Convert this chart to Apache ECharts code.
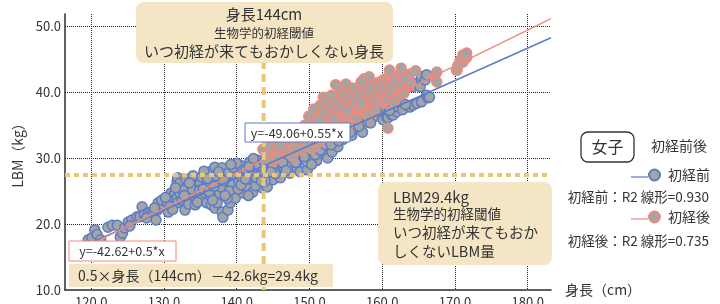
<!DOCTYPE html>
<html>
<head>
<meta charset="utf-8">
<script src="https://cdn.jsdelivr.net/npm/echarts@6/dist/echarts.min.js"></script>
<style>
  html, body { margin: 0; padding: 0; background: #fff; }
  #chart { width: 720px; height: 304px; }
</style>
</head>
<body>
<div id="chart"></div>
<script>
// axis extents
const xMin = 116.4
const xMax = 183.2
const yMin = 10
const yMax = 51.8

// 初経前 (height cm, LBM kg)
const prePoints = [
  [119.6, 17.6], [120.1, 17.9], [120.5, 19.1], [120.8, 18.4], [121.3, 17.6], [122.3, 19.5], [122.9, 19.8],
  [123.6, 19.8], [124.0, 18.0], [124.3, 18.6], [124.6, 19.4], [125.1, 20.3], [125.6, 20.6], [125.3, 19.7],
  [126.3, 21.1], [126.7, 21.1], [127.0, 22.6], [127.3, 21.4], [127.8, 21.7], [128.1, 21.7], [128.5, 21.7],
  [128.9, 20.6], [129.1, 22.1], [129.2, 23.2], [129.5, 22.6], [129.9, 22.9], [129.7, 23.6], [128.7, 22.4],
  [127.6, 20.9], [130.4, 23.3], [130.8, 22.6], [131.0, 24.7], [131.3, 24.1], [131.5, 24.7], [131.8, 23.9],
  [131.9, 23.2], [131.8, 26.4], [131.9, 27.0], [132.2, 26.2], [132.2, 24.7], [132.5, 23.6], [132.9, 22.1],
  [133.2, 25.6], [133.6, 24.1], [133.4, 23.0], [134.0, 24.8], [134.3, 22.9], [134.3, 25.9], [134.6, 25.9],
  [134.8, 24.2], [135.0, 23.6], [135.0, 26.2], [130.6, 21.8], [133.0, 26.8], [134.0, 27.3], [134.6, 23.3],
  [133.8, 25.3], [132.6, 25.1], [131.2, 22.2], [135.2, 27.1], [135.7, 24.7], [135.9, 25.9], [135.9, 23.2],
  [136.1, 25.6], [136.3, 27.9], [136.5, 22.9], [137.0, 28.6], [137.0, 22.4], [137.3, 23.2], [137.4, 26.4],
  [137.6, 24.6], [138.0, 21.8], [138.1, 21.0], [138.3, 25.3], [138.5, 27.2], [138.8, 22.1], [139.1, 28.2],
  [139.1, 23.2], [139.4, 26.0], [139.6, 24.9], [139.8, 23.9], [139.9, 27.4], [136.8, 26.5], [138.0, 28.5],
  [136.4, 24.3], [137.8, 25.6], [139.0, 25.0], [135.5, 28.0], [137.1, 27.3], [138.7, 23.9], [136.0, 26.9],
  [140.5, 28.9], [140.3, 26.5], [140.9, 24.7], [141.0, 27.6], [141.4, 25.7], [141.8, 29.4], [141.9, 26.8],
  [142.2, 24.8], [142.4, 28.0], [142.8, 29.7], [142.9, 26.3], [143.2, 27.4], [143.5, 25.5], [143.7, 28.5],
  [144.0, 30.0], [144.2, 25.6], [144.3, 27.2], [144.6, 30.5], [144.8, 28.6], [145.0, 26.7], [140.2, 25.3],
  [141.3, 28.3], [142.6, 25.8], [143.9, 26.5], [140.7, 27.0], [142.0, 27.3], [143.0, 28.9], [144.5, 29.3],
  [141.6, 24.3], [145.5, 30.9], [145.6, 28.2], [145.9, 29.6], [146.0, 27.0], [146.4, 28.7], [146.9, 31.5],
  [147.0, 29.8], [147.3, 27.7], [147.6, 28.9], [148.0, 30.6], [148.3, 28.4], [148.7, 27.9], [148.9, 29.8],
  [149.2, 31.0], [149.7, 28.2], [149.7, 29.4], [150.1, 30.0], [146.6, 30.2], [147.8, 31.8], [148.5, 32.2],
  [149.4, 32.5], [145.3, 27.6], [150.5, 31.3], [150.9, 32.7], [151.3, 30.6], [151.8, 31.8], [152.4, 30.8],
  [152.5, 30.0], [152.8, 31.7], [153.1, 30.9], [153.2, 33.2], [153.6, 32.3], [154.2, 33.8], [154.6, 32.8],
  [155.0, 34.2], [155.3, 34.5], [151.0, 29.6], [153.9, 31.7], [152.0, 33.4], [155.8, 33.4], [156.2, 35.3],
  [156.5, 34.7], [157.0, 35.8], [157.6, 36.5], [158.0, 35.4], [158.7, 36.1], [158.7, 39.1], [159.0, 38.5],
  [159.3, 39.2], [159.7, 36.8], [160.1, 35.8], [157.3, 33.9], [159.2, 37.4], [160.4, 37.6], [160.6, 36.2],
  [160.8, 36.1], [160.8, 37.7], [161.3, 36.5], [161.5, 36.5], [162.0, 37.0], [162.2, 37.7], [162.8, 37.3],
  [163.8, 37.7], [164.1, 41.4], [164.2, 40.8], [164.2, 38.0], [164.8, 38.3], [165.2, 40.8], [165.4, 38.5],
  [165.4, 42.3], [165.9, 41.8], [166.1, 42.6], [166.1, 39.5], [166.3, 39.1], [166.5, 39.2],
  [130.2, 24.0], [131.6, 25.5], [132.8, 24.3], [133.5, 26.2], [134.9, 25.1], [135.4, 25.3], [136.2, 24.9],
  [136.9, 25.7], [137.5, 27.9], [138.2, 26.6], [138.9, 27.8], [139.5, 28.6], [140.0, 29.2], [140.6, 25.9],
  [141.2, 26.8], [141.7, 28.7], [142.3, 29.9], [142.7, 27.0], [143.4, 26.5], [143.8, 29.4], [144.7, 27.9],
  [145.2, 29.2], [145.8, 30.4], [146.3, 29.3], [146.8, 28.1], [147.5, 30.5], [148.1, 29.3], [148.8, 30.8],
  [149.3, 30.2], [150.3, 29.0], [150.8, 30.5], [151.5, 31.2], [152.2, 32.0], [153.0, 32.0], [154.0, 32.6],
  [154.5, 34.5], [155.6, 33.9], [156.8, 34.8], [157.9, 37.4], [158.4, 35.3], [159.9, 38.3], [161.0, 37.2],
  [163.2, 38.1], [139.2, 29.0], [138.4, 24.3], [136.7, 23.6]
]

// 初経後
const postPoints = [
  [143.6, 31.3], [144.3, 30.6], [144.6, 31.8], [145.2, 30.2], [145.5, 31.5], [145.9, 32.6], [146.4, 32.0],
  [146.9, 32.0], [147.0, 30.8], [147.3, 32.4], [147.7, 30.2], [147.8, 33.4], [148.3, 31.7], [148.3, 32.7],
  [148.3, 31.2], [144.9, 29.5], [146.2, 30.9], [145.0, 32.9], [148.7, 33.9], [149.1, 32.3], [149.1, 32.7],
  [149.7, 33.8], [149.7, 34.5], [150.1, 32.0], [150.1, 32.7], [150.5, 34.7], [150.5, 33.4], [151.0, 33.2],
  [151.0, 36.2], [151.4, 34.7], [151.4, 36.2], [151.7, 35.3], [151.9, 36.5], [151.9, 37.0], [151.9, 39.2],
  [150.8, 35.5], [149.4, 35.0], [148.9, 31.2], [150.3, 31.4], [151.2, 32.4], [149.9, 36.3], [151.5, 38.0],
  [150.6, 37.4], [152.1, 35.8], [152.4, 33.8], [152.5, 36.1], [152.8, 34.7], [153.1, 37.3], [153.2, 34.7],
  [153.2, 37.7], [153.8, 37.3], [153.8, 38.8], [153.9, 36.8], [154.2, 36.2], [154.2, 39.2], [154.2, 40.3],
  [154.6, 35.8], [154.9, 35.8], [154.9, 38.3], [155.1, 38.8], [155.1, 39.8], [155.1, 40.0], [155.6, 36.5],
  [155.6, 37.7], [155.8, 38.0], [156.0, 39.8], [152.3, 38.6], [153.0, 39.5], [153.5, 35.4], [152.7, 33.0],
  [154.0, 34.4], [155.3, 34.9], [153.6, 41.1], [152.9, 36.3], [156.2, 39.8], [156.5, 40.3], [156.5, 39.2],
  [156.7, 37.3], [156.9, 37.6], [156.9, 38.3], [156.9, 40.8], [157.6, 37.7], [157.9, 40.8], [158.0, 41.1],
  [158.3, 38.8], [158.6, 37.3], [158.7, 39.2], [159.3, 41.1], [159.3, 41.4], [159.0, 37.0], [159.7, 41.4],
  [159.5, 39.6], [157.3, 39.5], [158.0, 36.3], [156.4, 36.0], [157.5, 42.0], [159.0, 40.2], [158.2, 42.3],
  [160.1, 41.8], [160.1, 39.8], [160.1, 38.3], [160.6, 38.8], [160.6, 40.3], [160.6, 42.1], [160.8, 41.8],
  [160.8, 34.5], [161.1, 39.8], [161.3, 42.1], [161.5, 42.1], [162.0, 40.3], [162.0, 39.1], [162.0, 40.6],
  [162.2, 42.3], [162.4, 39.5], [162.4, 42.7], [162.8, 41.1], [162.8, 42.1], [163.4, 42.6], [163.4, 40.8],
  [163.5, 42.3], [163.8, 42.7], [161.6, 38.4], [163.0, 39.8], [161.0, 43.3], [162.6, 43.6], [163.9, 41.3],
  [164.6, 43.2], [167.2, 42.3], [167.5, 43.0], [167.5, 41.5], [170.2, 43.3], [170.3, 43.3], [170.4, 44.0],
  [170.7, 44.8], [171.1, 44.5], [171.1, 45.6], [171.6, 45.2], [171.6, 45.9],
  [145.6, 30.0], [146.7, 31.2], [147.4, 33.0], [148.0, 31.6], [148.6, 32.6], [149.4, 33.5], [149.8, 31.8],
  [150.3, 33.9], [150.9, 34.2], [151.3, 35.7], [151.6, 33.6], [152.2, 34.6], [152.6, 37.4], [153.4, 36.0],
  [153.7, 38.2], [154.4, 37.6], [154.7, 39.6], [155.3, 37.1], [155.5, 39.2], [155.9, 40.6], [156.3, 38.6],
  [156.8, 39.6], [157.2, 38.2], [157.7, 40.3], [158.2, 39.9], [158.6, 40.6], [159.1, 38.4], [159.6, 40.8],
  [160.3, 40.9], [160.9, 40.9], [161.4, 40.7], [161.8, 41.6], [162.5, 41.2], [163.1, 41.9], [157.1, 41.5],
  [155.0, 41.2], [154.6, 33.3], [152.0, 36.9], [149.3, 34.1], [146.0, 31.6]
]

// fitted lines, end points as drawn
const fitPre = [[120.3, 17.3], [183.2, 48.2]]
const fitPost = [[121.2, 17.6], [183.2, 51.1]]

// threshold guides
const heightLine = [[143.7, yMin], [143.7, yMax]]
const lbmLine = [[xMin, 27.4], [xMax, 27.4]]

const FONT = '"Noto Sans CJK JP", "Noto Sans", sans-serif'
const TXT = '#333333'
const CREAM = '#f4e5c5'
const GOLD = '#ebc677'
const BLUE = '#5a7cc8'
const RED = '#f2897a'
const GRAY = '#a4a4a4'

const chart = echarts.init(document.getElementById('chart'))

const legendBase = {
  orient: 'horizontal',
  icon: 'circle',
  itemWidth: 11,
  itemHeight: 11,
  padding: 0,
  selectedMode: false,
  textStyle: { fontFamily: FONT, fontSize: 14, color: TXT, padding: [0, 0, 0, 3] },
}

chart.setOption({
  animation: false,
  backgroundColor: '#fff',
  grid: { left: 65, right: 169, top: 14, bottom: 14, outerBoundsMode: 'none' },
  legend: [
    { ...legendBase, data: ['初経前'], left: 648, top: 168 },
    { ...legendBase, data: ['初経後'], left: 648, top: 210 },
  ],
  xAxis: {
    type: 'value',
    min: xMin,
    max: xMax,
    name: '身長（cm）',
    nameLocation: 'end',
    nameGap: 14,
    nameTextStyle: { fontFamily: FONT, fontSize: 14, color: TXT, verticalAlign: 'middle' },
    axisLine: { show: true, lineStyle: { color: '#2b2b2b', width: 1.5 } },
    axisTick: { show: false },
    axisLabel: {
      margin: 6, fontFamily: FONT, fontSize: 13, color: TXT,
      showMinLabel: false, showMaxLabel: false,
      formatter: v => v.toFixed(1),
    },
    splitLine: { show: true, showMinLine: false, showMaxLine: false, lineStyle: { color: '#222', type: 'dotted', width: 1 } },
  },
  yAxis: {
    type: 'value',
    min: yMin,
    max: yMax,
    name: 'LBM（kg）',
    nameLocation: 'middle',
    nameRotate: 90,
    nameGap: 40,
    nameTextStyle: { fontFamily: FONT, fontSize: 14, color: TXT },
    axisLine: { show: true, lineStyle: { color: '#2b2b2b', width: 1.5 } },
    axisTick: { show: false },
    axisLabel: {
      margin: 4, fontFamily: FONT, fontSize: 13, color: TXT,
      showMaxLabel: false,
      formatter: v => v.toFixed(1),
    },
    splitLine: { show: true, showMinLine: false, showMaxLine: false, lineStyle: { color: '#222', type: 'dotted', width: 1 } },
  },
  series: [
    {
      name: '初経前', type: 'scatter', data: prePoints, symbolSize: 10, z: 2,
      itemStyle: { color: GRAY, borderColor: BLUE, borderWidth: 1.5, opacity: 1 },
    },
    {
      name: '初経後', type: 'scatter', data: postPoints, symbolSize: 10, z: 2,
      itemStyle: { color: GRAY, borderColor: RED, borderWidth: 1.5, opacity: 1 },
    },
    {
      name: 'fitPre', type: 'line', data: fitPre, symbol: 'none', z: 3, silent: true,
      lineStyle: { color: BLUE, width: 1.5 },
    },
    {
      name: 'fitPost', type: 'line', data: fitPost, symbol: 'none', z: 3, silent: true,
      lineStyle: { color: RED, width: 1.5 },
    },
    {
      name: 'heightLine', type: 'line', data: heightLine, symbol: 'none', z: 4, silent: true,
      lineStyle: { color: GOLD, width: 4, type: [8, 5] },
    },
    {
      name: 'lbmLine', type: 'line', data: lbmLine, symbol: 'none', z: 4, silent: true,
      lineStyle: { color: GOLD, width: 4, type: [5, 4] },
    },
  ],
  graphic: [
    // top note
    { type: 'rect', z: 20, shape: { x: 136, y: 2, width: 257, height: 61, r: 8 }, style: { fill: CREAM } },
    { type: 'text', z: 21, x: 264, y: 14, style: { text: '身長144cm', font: '15px ' + FONT, fill: TXT, align: 'center', verticalAlign: 'middle' } },
    { type: 'text', z: 21, x: 264, y: 33, style: { text: '生物学的初経閾値', font: '12.5px ' + FONT, fill: TXT, align: 'center', verticalAlign: 'middle' } },
    { type: 'text', z: 21, x: 264, y: 51, style: { text: 'いつ初経が来てもおかしくない身長', font: '15px ' + FONT, fill: TXT, align: 'center', verticalAlign: 'middle' } },
    // fit equations
    { type: 'rect', z: 20, shape: { x: 245, y: 123, width: 105, height: 19 }, style: { fill: '#fff', stroke: BLUE, lineWidth: 1 } },
    { type: 'text', z: 21, x: 297, y: 133, style: { text: 'y=-49.06+0.55*x', font: '12.5px ' + FONT, fill: TXT, align: 'center', verticalAlign: 'middle' } },
    { type: 'rect', z: 20, shape: { x: 69, y: 241, width: 107, height: 20 }, style: { fill: '#fff', stroke: RED, lineWidth: 1 } },
    { type: 'text', z: 21, x: 122, y: 251, style: { text: 'y=-42.62+0.5*x', font: '12.5px ' + FONT, fill: TXT, align: 'center', verticalAlign: 'middle' } },
    // bottom formula
    { type: 'rect', z: 20, shape: { x: 69, y: 264, width: 264, height: 23 }, style: { fill: CREAM } },
    { type: 'text', z: 21, x: 78, y: 276, style: { text: '0.5×身長（144cm）－42.6kg=29.4kg', font: '14px ' + FONT, fill: TXT, align: 'left', verticalAlign: 'middle' } },
    // right note
    { type: 'rect', z: 20, shape: { x: 378, y: 182, width: 174, height: 83, r: 8 }, style: { fill: CREAM } },
    { type: 'text', z: 21, x: 393, y: 197, style: { text: 'LBM29.4kg', font: '15px ' + FONT, fill: TXT, align: 'left', verticalAlign: 'middle' } },
    { type: 'text', z: 21, x: 393, y: 214, style: { text: '生物学的初経閾値', font: '13.5px ' + FONT, fill: TXT, align: 'left', verticalAlign: 'middle' } },
    { type: 'text', z: 21, x: 393, y: 232, style: { text: 'いつ初経が来てもおか', font: '14.5px ' + FONT, fill: TXT, align: 'left', verticalAlign: 'middle' } },
    { type: 'text', z: 21, x: 393, y: 251, style: { text: 'しくないLBM量', font: '14.5px ' + FONT, fill: TXT, align: 'left', verticalAlign: 'middle' } },
    // legend extras
    { type: 'rect', z: 20, shape: { x: 581, y: 132, width: 53, height: 30, r: 7 }, style: { fill: '#fff', stroke: '#333', lineWidth: 1.3 } },
    { type: 'text', z: 21, x: 607.5, y: 147, style: { text: '女子', font: '16px ' + FONT, fill: TXT, align: 'center', verticalAlign: 'middle' } },
    { type: 'text', z: 21, x: 651, y: 146, style: { text: '初経前後', font: '14px ' + FONT, fill: TXT, align: 'left', verticalAlign: 'middle' } },
    { type: 'line', z: 20, shape: { x1: 631, y1: 177, x2: 648, y2: 177 }, style: { stroke: BLUE, lineWidth: 1.2 } },
    { type: 'line', z: 20, shape: { x1: 631, y1: 219, x2: 648, y2: 219 }, style: { stroke: RED, lineWidth: 1.2 } },
    { type: 'text', z: 21, x: 709, y: 197, style: { text: '初経前：R2 線形=0.930', font: '13.5px ' + FONT, fill: TXT, align: 'right', verticalAlign: 'middle' } },
    { type: 'text', z: 21, x: 709, y: 241, style: { text: '初経後：R2 線形=0.735', font: '13.5px ' + FONT, fill: TXT, align: 'right', verticalAlign: 'middle' } },
  ],
})
</script>
</body>
</html>
